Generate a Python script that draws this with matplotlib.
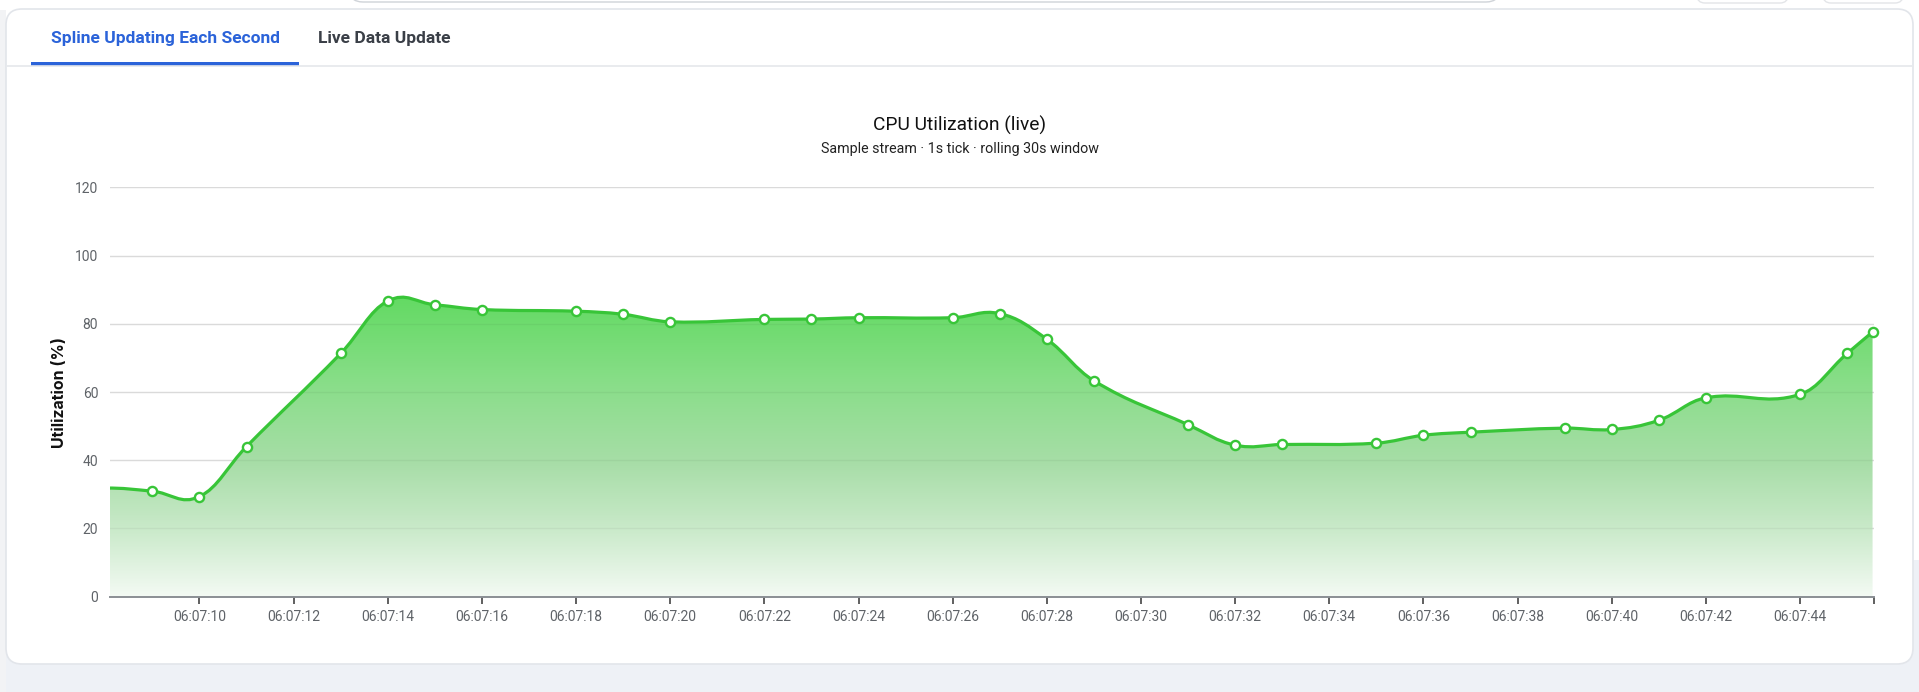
import numpy as np
import matplotlib
matplotlib.use('Agg')
import matplotlib.pyplot as plt
from matplotlib.path import Path
from matplotlib.patches import PathPatch, FancyBboxPatch, Rectangle
from matplotlib.ticker import FuncFormatter

# ── Data (seconds after 06:07:00, CPU %) ──────────────────────
t_sec = [7, 8, 9, 10, 11, 13, 14, 15, 16, 18, 19, 20, 22, 23, 24, 26, 27, 28,
         29, 31, 32, 33, 35, 36, 37, 39, 40, 41, 42, 44, 45, 45.54]
cpu = [30.5, 31.8, 30.9, 29.3, 44.0, 71.3, 86.7, 85.6, 84.2, 83.7, 82.8, 80.6,
       81.3, 81.4, 81.8, 81.8, 83.0, 75.5, 63.3, 50.4, 44.4, 44.6, 45.0, 47.3,
       48.2, 49.4, 49.0, 51.7, 58.3, 59.3, 71.3, 77.6]
x_window = (8.10, 45.56)
y_ticks = [0, 20, 40, 60, 80, 100, 120]
x_ticks = list(range(10, 45, 2))

title = 'CPU Utilization (live)'
subtitle = 'Sample stream \u00b7 1s tick \u00b7 rolling 30s window'
tabs = ['Spline Updating Each Second', 'Live Data Update']

# ── Style ─────────────────────────────────────────────────────
GREEN = '#38c538'
BLUE = '#2b63d9'
TXT = '#111111'
TICK = '#5f6368'
GRID = '#e4e4e4'
W, H = 1919, 692
# area gradient, bottom -> top (fraction of tallest point, rgb)
GRAD_POS = [0.0, 0.23, 0.45, 0.68, 1.0]
GRAD_RGB = [(243, 250, 243), (200, 233, 200), (166, 221, 166),
            (140, 222, 140), (98, 218, 98)]

plt.rcParams['font.family'] = ['Roboto', 'DejaVu Sans']

fig = plt.figure(figsize=(W / 100, H / 100), dpi=100, facecolor='white')

# ── Page / card background (pixel coordinates) ───────────────
bg = fig.add_axes([0, 0, 1, 1], zorder=0)
bg.set_xlim(0, W)
bg.set_ylim(H, 0)
bg.axis('off')

bg.add_patch(Rectangle((0, 560), W, H - 560, fc='#eef1f6', ec='none'))
bg.add_patch(Rectangle((0, 10), 6, H, fc='#f2f3f5', ec='none'))
bg.add_patch(FancyBboxPatch((349, -40), 1151, 42, boxstyle='round,pad=0,rounding_size=14',
                            fc='white', ec='#cfd3d8', lw=1))
bg.add_patch(FancyBboxPatch((1697, -30), 91, 33, boxstyle='round,pad=0,rounding_size=8',
                            fc='white', ec='#e3e5e8', lw=1))
bg.add_patch(FancyBboxPatch((1823, -30), 80, 33, boxstyle='round,pad=0,rounding_size=8',
                            fc='white', ec='#e3e5e8', lw=1))
bg.add_patch(FancyBboxPatch((6, 9), 1907, 655, boxstyle='round,pad=0,rounding_size=16',
                            fc='white', ec='#e2e5ea', lw=1.2))

# tabs
bg.text(51, 39, tabs[0], ha='left', va='center', fontsize=12.5,
        fontweight='bold', color=BLUE)
bg.text(318, 39, tabs[1], ha='left', va='center', fontsize=12.5,
        fontweight='bold', color='#3a3f47')
bg.plot([7, 1912], [66, 66], color='#e5e7eb', lw=1.2, solid_capstyle='butt')
bg.add_patch(Rectangle((31, 62), 268, 3.5, fc=BLUE, ec='none'))

# titles
bg.text(960, 125, title, ha='center', va='center', fontsize=13.8, color=TXT)
bg.text(960, 149.5, subtitle, ha='center', va='center', fontsize=10.3, color='#222222')

# ── Chart axes ────────────────────────────────────────────────
x0, x1 = 110, 1873.5
y0, y1 = 596.5, 187.5
ax = fig.add_axes([x0 / W, (H - y0) / H, (x1 - x0) / W, (y0 - y1) / H], zorder=1)
ax.set_facecolor('none')
ax.set_xlim(*x_window)
ax.set_ylim(y_ticks[0], y_ticks[-1])

# smooth curve through the samples (cubic Bezier, cardinal tangents)
xs = np.asarray(t_sec, dtype=float)
ys = np.asarray(cpu, dtype=float)
n = len(xs)
slope = np.empty(n)
slope[1:-1] = (ys[2:] - ys[:-2]) / (xs[2:] - xs[:-2])
slope[0] = (ys[1] - ys[0]) / (xs[1] - xs[0])
slope[-1] = (ys[-1] - ys[-2]) / (xs[-1] - xs[-2])
k = 0.4
verts = [(xs[0], ys[0])]
codes = [Path.MOVETO]
for i in range(n - 1):
    h = xs[i + 1] - xs[i]
    verts += [(xs[i] + k * h, ys[i] + slope[i] * k * h),
              (xs[i + 1] - k * h, ys[i + 1] - slope[i + 1] * k * h),
              (xs[i + 1], ys[i + 1])]
    codes += [Path.CURVE4] * 3
curve = Path(verts, codes)
area = Path(verts + [(xs[-1], 0), (xs[0], 0), (xs[0], ys[0])],
            codes + [Path.LINETO, Path.LINETO, Path.CLOSEPOLY])

# gradient area fill
area_patch = PathPatch(area, fc='none', ec='none', transform=ax.transData)
ax.add_patch(area_patch)
top = ys.max() * 1.02
f = np.linspace(0, 1, 256)
grad = np.ones((256, 1, 4))
rgb = np.array(GRAD_RGB) / 255.0
for c in range(3):
    grad[:, 0, c] = np.interp(f, GRAD_POS, rgb[:, c])
im = ax.imshow(grad, extent=[x_window[0], x_window[1], 0, top], origin='lower',
               aspect='auto', zorder=1, interpolation='bilinear')
im.set_clip_path(area_patch)

# grid lines faintly visible through the fill
for v in y_ticks[1:]:
    ax.axhline(v, color='black', alpha=0.045, lw=1, zorder=1.5)

ax.add_patch(PathPatch(curve, fill=False, ec=GREEN, lw=2.3, zorder=3,
                       joinstyle='round', capstyle='round'))

vis = xs >= x_window[0]
ax.plot(xs[vis], ys[vis], 'o', ms=6.6, mfc='white', mec=GREEN, mew=1.7,
        zorder=4, clip_on=False)

# axes styling
ax.set_yticks(y_ticks)
ax.set_xticks(x_ticks)
ax.set_xticks([x_window[1]], minor=True)
ax.xaxis.set_major_formatter(FuncFormatter(lambda v, _: f'06:07:{int(round(v)):02d}'))
ax.grid(axis='y', color=GRID, lw=1)
ax.set_axisbelow(True)
for s in ['left', 'top', 'right']:
    ax.spines[s].set_visible(False)
ax.spines['bottom'].set_color('#8a8f94')
ax.spines['bottom'].set_linewidth(1.4)
ax.tick_params(axis='y', length=0, pad=8.5, labelsize=10, labelcolor=TICK)
ax.tick_params(axis='x', which='both', length=5, width=1.2, color='#444444',
               pad=5, labelsize=10, labelcolor=TICK)
ax.set_ylabel('Utilization (%)', fontsize=11.5, fontweight='bold', color=TXT,
              family=['Inter', 'DejaVu Sans'])
ax.yaxis.set_label_coords(-0.0245, 0.5)

fig.savefig('out.png', dpi=100, facecolor='white')
